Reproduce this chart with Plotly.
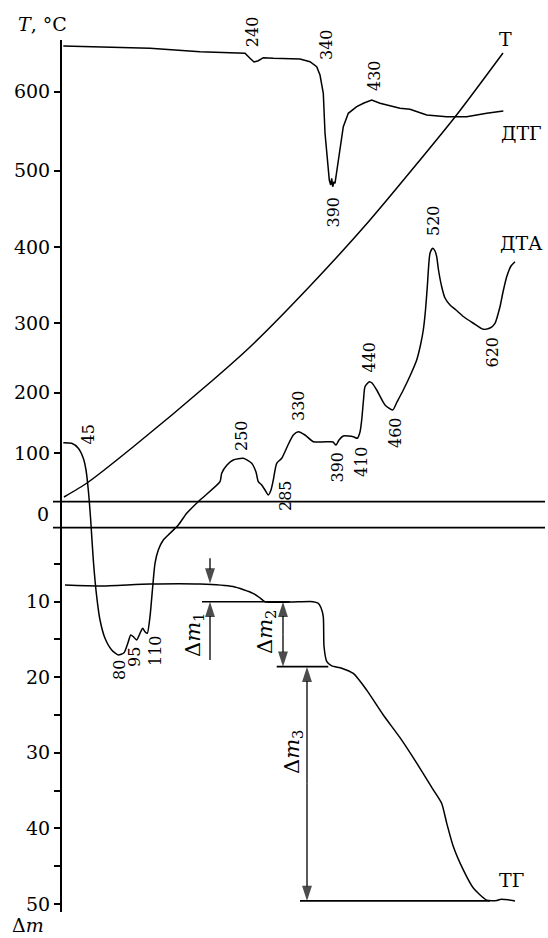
import plotly.graph_objects as go

# ---------------- data (drawing units: x = time, y = chart units from top) ----------------
T_TICK_LABELS = ["100", "200", "300", "400", "500", "600"]
T_TICK_POS = [453.3, 392.7, 323.3, 247.3, 170.7, 91.7]

DM_TICKS = [10, 20, 30, 40, 50]
DM_TICK_LABELS = ["10", "20", "30", "40", "50"]
DM_MINOR_TICKS = [5, 15, 25, 35, 45]

# T curve
T_x = [64, 87, 133, 213, 250, 310, 370, 455, 503]
T_y = [497, 483, 447, 380, 347, 286, 220, 117, 53]

# DTG curve
DTG_x = [63.3, 100, 150, 200, 230, 245, 250, 254, 258.3, 263.3, 273.3, 300, 310, 316.7, 320,
         323.3, 325, 326.7, 328.3, 329.3, 330.7, 331.7, 332.7, 334, 335, 336, 338.3, 340.5,
         343.3, 348.3, 356.7, 364, 371.7, 380, 390, 400, 410, 426.7, 446.7, 466.7, 486.7, 503.3]
DTG_y = [46, 46.7, 48.3, 51.7, 52.5, 53.3, 58.3, 62, 60.7, 57.7, 58.3, 59, 61.7, 66.7, 75,
         93.3, 133, 153, 173.3, 180, 185, 178.3, 186.7, 181.7, 183.3, 176.7, 160, 145,
         126.7, 113.3, 106.7, 103, 100, 103.3, 106, 108.3, 109.3, 115, 116.7, 116.7, 113.3, 111]

# DTA curve
DTA_x = [63.3, 71.7, 78.3, 83.3, 86, 88.3, 90.7, 93.3, 96.7, 100, 105, 111.7, 118.3, 124,
         128.3, 130.7, 133.3, 136.7, 140, 142.7, 145, 147.3, 150, 152.7, 155, 158.3, 163.3,
         170, 178.3, 186.7, 200, 220, 221.7, 227, 233.3, 243.3, 251.7, 256, 258.3, 261.7,
         265, 268.3, 271, 273.3, 276.7, 281.7, 288, 293.3, 298.3, 305, 313.3, 322, 330, 333,
         336, 339, 343.3, 353.3, 357.3, 360, 361.7, 363.5, 365, 369.3, 372, 376.7, 385, 392.7,
         397, 403.3, 410, 416.7, 420.5, 423.3, 425.5, 427.3, 430, 432.7, 435, 436.7, 438.5,
         441.7, 445, 450, 456, 463.3, 473, 483.3, 490, 495, 500, 503, 506.7, 511, 515]
DTA_y = [442.7, 443.3, 448.3, 458.3, 470, 490, 520, 560, 596.7, 620, 638.3, 650, 655, 652.7,
         641.7, 635, 636.7, 640, 633.3, 628.3, 631.7, 633.3, 616.7, 586.7, 563.3, 550, 540,
         533.3, 525, 513.3, 500, 481.7, 473.3, 465, 460, 458.3, 463.3, 472, 481.7, 485,
         490, 495, 490, 480, 463.3, 458.3, 445, 435, 431.7, 435, 441.7, 442, 441.7, 442,
         445, 440, 436, 436.7, 438.3, 432, 420, 400, 386.7, 381.7, 383, 390, 405, 410,
         402, 390, 376, 360, 345, 330, 310, 286.7, 253.3, 248.3, 251, 256.7, 270,
         286.7, 298, 305, 310, 316.5, 323, 329.3, 328, 323.3, 306.7, 292, 276.7, 266, 261.7]

# TG curve (mass loss, same units as the lower scale)
TG_x = [65, 100, 150, 200, 233, 253, 260, 265, 290, 313, 318, 321, 323.3, 324, 326.7, 331.7,
        341.7, 353.3, 366.7, 383.3, 400, 420, 433.3, 441.7, 446.7, 453.3, 463.3, 473.3,
        486.7, 496.7, 500, 508, 515]
TG_y = [7.8, 7.92, 7.66, 7.66, 8.0, 8.9, 9.5, 10.0, 10.05, 10.0, 10.2, 10.8, 12.0, 15.9,
        17.9, 18.5, 18.8, 19.5, 21.7, 25.0, 28.0, 32.05, 34.9, 36.7, 39.3, 42.4, 45.5,
        47.9, 49.5, 49.55, 49.4, 49.45, 49.6]

# mass-loss steps
DM_LEVELS = [7.6, 10.0, 18.6, 49.6]

# peak labels: (x, y, text)
PEAK_LABELS = [
    (252.5, 31.7, "240"), (326, 45, "340"), (374, 76, "430"), (333, 212.5, "390"),
    (87.5, 435, "45"), (119, 670, "80"), (134, 657, "95"), (155, 651, "110"),
    (241, 436, "250"), (285, 496, "285"), (298, 406, "330"), (337, 467.5, "390"),
    (361, 462, "410"), (369, 357.5, "440"), (395, 433, "460"), (433, 221, "520"),
    (492, 352.5, "620"),
]

CURVE_LABELS = [(505, 39, "T"), (521, 133, "ДТГ"), (521.5, 243, "ДТА"), (511, 880, "ТГ")]

FONT = "DejaVu Serif"
LW = 1.5

fig = go.Figure()

def line(x, y, yaxis="y", w=LW, shape="spline"):
    fig.add_trace(go.Scatter(x=x, y=y, mode="lines", yaxis=yaxis,
                             line=dict(color="black", width=w, shape=shape, smoothing=0.6),
                             hoverinfo="skip", showlegend=False))

def arrow(x, y0, y1, yaxis="y2"):
    # line from y0 to y1 with an arrowhead at y1
    fig.add_trace(go.Scatter(x=[x, x], y=[y0, y1], mode="lines+markers", yaxis=yaxis,
                             line=dict(color="black", width=1.3),
                             marker=dict(symbol="arrow", size=[0, 16], color="black",
                                         angleref="previous", line=dict(width=0)),
                             hoverinfo="skip", showlegend=False))

line(T_x, T_y)
line(DTG_x, DTG_y, shape="linear")
line(DTA_x, DTA_y)
line(TG_x, TG_y, yaxis="y2")

# zero lines of DTA
line([53, 545], [501.7, 501.7], w=1.7, shape="linear")
line([53, 545], [527.7, 527.7], w=1.7, shape="linear")
# axis line
line([61, 61], [40, 912], w=2, shape="linear")

# Δm level lines
line([202, 290], [DM_LEVELS[1], DM_LEVELS[1]], yaxis="y2", w=1.6, shape="linear")
line([276.7, 328.3], [DM_LEVELS[2], DM_LEVELS[2]], yaxis="y2", w=1.6, shape="linear")
line([300, 490], [DM_LEVELS[3], DM_LEVELS[3]], yaxis="y2", w=1.6, shape="linear")

# Δm arrows
arrow(210, 4.26, DM_LEVELS[0])
arrow(210, 17.72, DM_LEVELS[1])
mid2 = (DM_LEVELS[1] + DM_LEVELS[2]) / 2
arrow(283, mid2, DM_LEVELS[1])
arrow(283, mid2, DM_LEVELS[2])
mid3 = (DM_LEVELS[2] + DM_LEVELS[3]) / 2
arrow(307, mid3, DM_LEVELS[2])
arrow(307, mid3, DM_LEVELS[3])

ann = []
for x, y, t in PEAK_LABELS:
    ann.append(dict(x=x, y=y, xref="x", yref="y", text=t, showarrow=False, textangle=-90,
                    font=dict(family=FONT, size=16, color="black")))
for x, y, t in CURVE_LABELS:
    ann.append(dict(x=x, y=y, xref="x", yref="y", text=t, showarrow=False,
                    font=dict(family=FONT, size=19, color="black")))
ann.append(dict(x=42.5, y=24, xref="x", yref="y", text="<i>T</i>, °C", showarrow=False,
                font=dict(family=FONT, size=19, color="black")))
ann.append(dict(x=28, y=925, xref="x", yref="y", text="Δ<i>m</i>", showarrow=False,
                font=dict(family=FONT, size=19, color="black")))
ann.append(dict(x=42.5, y=514, xref="x", yref="y", text="0", showarrow=False,
                font=dict(family=FONT, size=19, color="black")))
for x, y, t in [(194, 635, "Δ<i>m</i><sub>1</sub>"), (266, 632, "Δ<i>m</i><sub>2</sub>"),
                (293, 752, "Δ<i>m</i><sub>3</sub>")]:
    ann.append(dict(x=x, y=y, xref="x", yref="y", text=t, showarrow=False, textangle=-90,
                    font=dict(family=FONT, size=21, color="black")))

fig.update_layout(
    width=548, height=938,
    margin=dict(l=0, r=0, t=0, b=0),
    paper_bgcolor="white", plot_bgcolor="white",
    xaxis=dict(range=[0, 548], visible=False, fixedrange=True),
    yaxis=dict(range=[938, 0], anchor="free", position=61 / 548, showgrid=False,
               zeroline=False, showline=False, ticks="outside", ticklen=7, tickwidth=1.6,
               tickcolor="black", tickvals=T_TICK_POS, ticktext=T_TICK_LABELS,
               tickfont=dict(family=FONT, size=19, color="black"), automargin=False,
               fixedrange=True),
    yaxis2=dict(range=[54.51, -69.63], overlaying="y", anchor="free", position=61 / 548,
                side="left", showgrid=False, zeroline=False, showline=False,
                ticks="outside", ticklen=7, tickwidth=1.6, tickcolor="black",
                tickvals=DM_TICKS, ticktext=DM_TICK_LABELS,
                minor=dict(tickmode="array", tickvals=DM_MINOR_TICKS, ticks="outside",
                           ticklen=7, tickwidth=1.6, tickcolor="black", showgrid=False),
                tickfont=dict(family=FONT, size=19, color="black"), automargin=False,
                fixedrange=True),
    annotations=ann,
    showlegend=False,
)

fig.write_html("out.html", config={"displayModeBar": False},
               post_script="document.body.style.margin='0';")
